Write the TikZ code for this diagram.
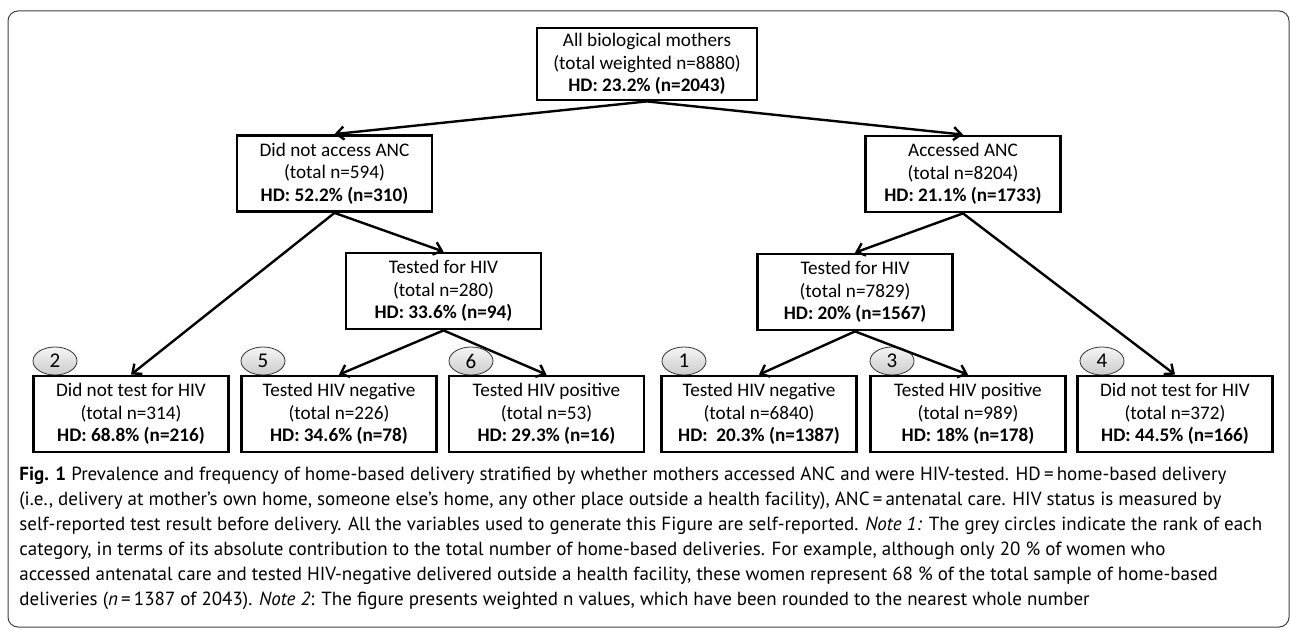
\documentclass[tikz,border=0pt]{standalone}
\usepackage{fontspec}
\setmainfont{Carlito}
\newfontfamily\capfont{PT Sans}
\usetikzlibrary{
  arrows.meta,
  shapes.geometric
}
\tikzset{
  >={Straight Barb[length=3.8pt,width=6.5pt]},
  box/.style={draw, line width=1.4pt, fill=white, align=center,
    minimum width=97.5pt, minimum height=38pt, inner sep=2pt,
    font=\fontsize{9.6}{11.2}\selectfont},
  rank/.style={ellipse, draw=black!80, line width=0.4pt,
    top color=gray!8, bottom color=gray!40,
    minimum width=22pt, minimum height=14pt, inner sep=0pt,
    font=\fontsize{10.5}{12}\selectfont},
  link/.style={->, line width=1.2pt}
}

\begin{document}
\begin{tikzpicture}[x=0.5pt, y=0.5pt]
 \useasboundingbox (0,0) rectangle (1290,-630);
 \draw[black!75, line width=0.5pt, rounded corners=5pt] (8,-11) rectangle (1289,-627);
 % rank of each category
 \node[rank] (r2) at (55,-361) {2};
 \node[rank] (r5) at (263,-361) {5};
 \node[rank] (r6) at (471,-361) {6};
 \node[rank] (r1) at (684,-361) {1};
 \node[rank] (r3) at (892,-361) {3};
 \node[rank] (r4) at (1102,-361) {4};
 % tree
 \node[box, minimum width=110pt, minimum height=36pt] (all) at (647,-64)
   {All biological mothers\\(total weighted n=8880)\\\textbf{HD: 23.2\% (n=2043)}};
 \node[box] (noanc) at (334.5,-173.5) {Did not access ANC\\(total n=594)\\\textbf{HD: 52.2\% (n=310)}};
 \node[box] (anc) at (963,-174) {Accessed ANC\\(total n=8204)\\\textbf{HD: 21.1\% (n=1733)}};
 \node[box] (testl) at (443.5,-291) {Tested for HIV\\(total n=280)\\\textbf{HD: 33.6\% (n=94)}};
 \node[box] (testr) at (855,-292) {Tested for HIV\\(total n=7829)\\\textbf{HD: 20\% (n=1567)}};
 \node[box] (notestl) at (131,-414) {Did not test for HIV\\(total n=314)\\\textbf{HD: 68.8\% (n=216)}};
 \node[box] (negl) at (339,-414) {Tested HIV negative\\(total n=226)\\\textbf{HD: 34.6\% (n=78)}};
 \node[box] (posl) at (546.5,-414) {Tested HIV positive\\(total n=53)\\\textbf{HD: 29.3\% (n=16)}};
 \node[box] (negr) at (759,-414) {Tested HIV negative\\(total n=6840)\\\textbf{HD:\ \ 20.3\% (n=1387)}};
 \node[box] (posr) at (968,-414) {Tested HIV positive\\(total n=989)\\\textbf{HD: 18\% (n=178)}};
 \node[box] (notestr) at (1175,-414) {Did not test for HIV\\(total n=372)\\\textbf{HD: 44.5\% (n=166)}};
 \draw[link] (all.south) -- (noanc.north);
 \draw[link] (all.south) -- (anc.north);
 \draw[link] (noanc.south) -- (notestl.north);
 \draw[link] (noanc.south) -- (testl.north);
 \draw[link] (anc.south) -- (testr.north);
 \draw[link] (anc.south) -- (notestr.north);
 \draw[link] (testl.south) -- (negl.north);
 \draw[link] (testl.south) -- (posl.north);
 \draw[link] (testr.south) -- (negr.north);
 \draw[link] (testr.south) -- (posr.north);
 % caption
 \node[anchor=north west, align=left, inner sep=0pt,
   font=\capfont\fontsize{9.5}{12.5}\selectfont] (cap) at (19,-467)
   {\textbf{Fig. 1} Prevalence and frequency of home-based delivery stratified by whether mothers accessed ANC and were HIV-tested. HD\,=\,home-based delivery\\
    (i.e., delivery at mother’s own home, someone else’s home, any other place outside a health facility), ANC\,=\,antenatal care. HIV status is measured by\\
    self-reported test result before delivery. All the variables used to generate this Figure are self-reported. \textit{Note 1:} The grey circles indicate the rank of each\\
    category, in terms of its absolute contribution to the total number of home-based deliveries. For example, although only 20~\% of women who\\
    accessed antenatal care and tested HIV-negative delivered outside a health facility, these women represent 68~\% of the total sample of home-based\\
    deliveries (\textit{n}\,=\,1387 of 2043). \textit{Note 2}: The figure presents weighted n values, which have been rounded to the nearest whole number};
\end{tikzpicture}
\end{document}
